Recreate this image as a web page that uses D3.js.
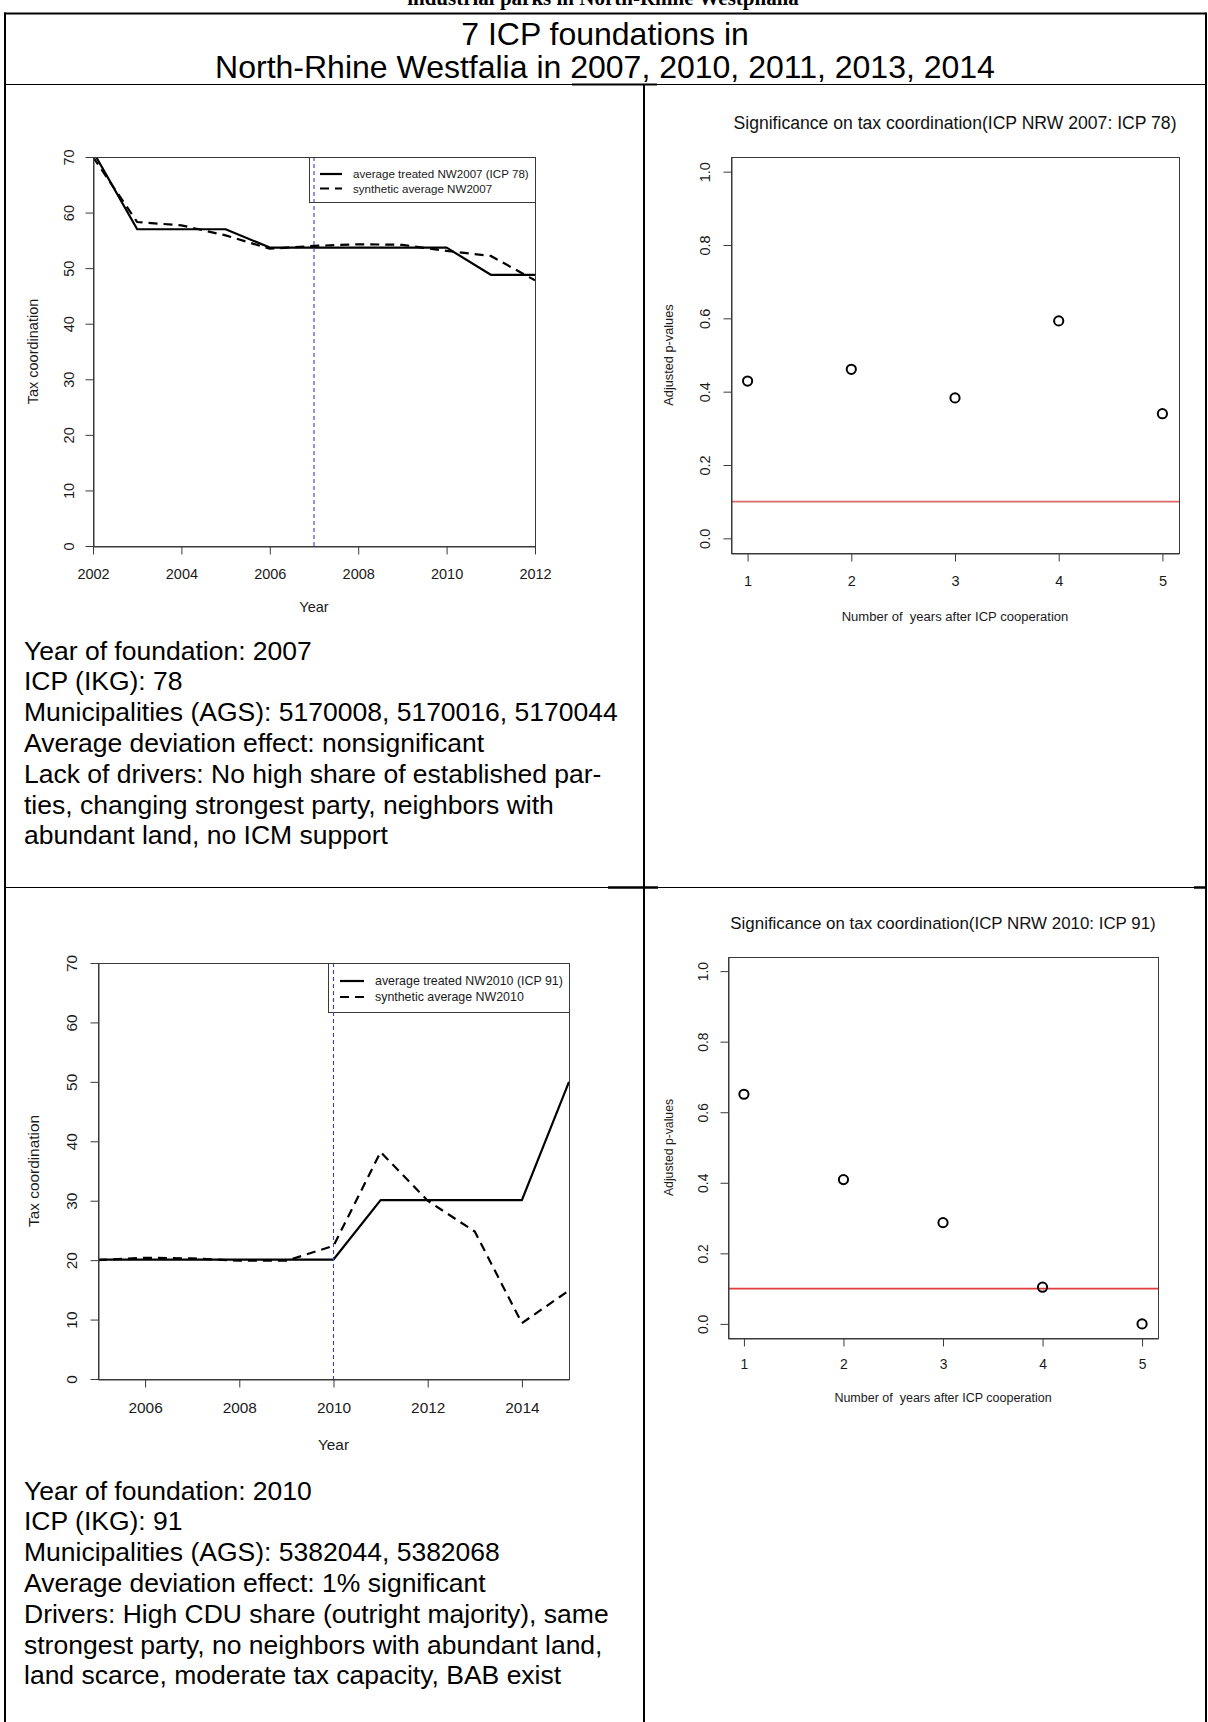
<!DOCTYPE html>
<html>
<head>
<meta charset="utf-8">
<script src="https://cdn.jsdelivr.net/npm/d3@7"></script>
<style>
  html, body { margin: 0; padding: 0; background: #fff; }
  svg { display: block; }
</style>
</head>
<body>
<svg id="page" width="1208" height="1722"></svg>
<script>
// ---- data ----
const docTitle = "industrial parks in North-Rhine Westphalia";
const headerLines = ["7 ICP foundations in", "North-Rhine Westfalia in 2007, 2010, 2011, 2013, 2014"];

const years2007 = [2002, 2003, 2004, 2005, 2006, 2007, 2008, 2009, 2010, 2011, 2012];
const treated2007 = [71.0, 57.0, 57.0, 57.0, 53.7, 53.7, 53.7, 53.7, 53.7, 48.8, 48.8];
const synthetic2007 = [70.0, 58.3, 57.7, 55.9, 53.5, 54.0, 54.3, 54.2, 53.1, 52.2, 47.8];
const xTicks2007 = [2002, 2004, 2006, 2008, 2010, 2012];
const legend2007 = ["average treated NW2007 (ICP 78)", "synthetic average NW2007"];

const years2010 = [2005, 2006, 2007, 2008, 2009, 2010, 2011, 2012, 2013, 2014, 2015];
const treated2010 = [20.1, 20.1, 20.1, 20.1, 20.1, 20.1, 30.1, 30.1, 30.1, 30.1, 50.0];
const synthetic2010 = [20.0, 20.4, 20.3, 19.9, 19.9, 22.4, 38.2, 30.0, 24.8, 9.4, 14.9];
const xTicks2010 = [2006, 2008, 2010, 2012, 2014];
const legend2010 = ["average treated NW2010 (ICP 91)", "synthetic average NW2010"];

const taxTicks = [0, 10, 20, 30, 40, 50, 60, 70];

const yearsAfter = [1, 2, 3, 4, 5];
const pvalues2007 = [0.429, 0.461, 0.383, 0.593, 0.340];
const pvalues2010 = [0.651, 0.409, 0.287, 0.104, 0.0];
const pTicks = [0, 0.2, 0.4, 0.6, 0.8, 1.0];
const pThreshold = 0.1;
const pTitle2007 = "Significance on tax coordination(ICP NRW 2007: ICP 78)";
const pTitle2010 = "Significance on tax coordination(ICP NRW 2010: ICP 91)";

const notes2007 = [
  "Year of foundation: 2007",
  "ICP (IKG): 78",
  "Municipalities (AGS): 5170008, 5170016, 5170044",
  "Average deviation effect: nonsignificant",
  "Lack of drivers: No high share of established par-",
  "ties, changing strongest party, neighbors with",
  "abundant land, no ICM support"
];
const notes2010 = [
  "Year of foundation: 2010",
  "ICP (IKG): 91",
  "Municipalities (AGS): 5382044, 5382068",
  "Average deviation effect: 1% significant",
  "Drivers: High CDU share (outright majority), same",
  "strongest party, no neighbors with abundant land,",
  "land scarce, moderate tax capacity, BAB exist"
];

// ---- drawing ----
const SANS = "Arial, 'Liberation Sans', Helvetica, sans-serif";
const SERIF = "'Times New Roman', 'Liberation Serif', serif";
const AXIS = "#3a3a3a";
const svg = d3.select("#page");

// document title (runs off the top edge of the page)
svg.append("text")
  .attr("x", 603).attr("y", 5)
  .attr("text-anchor", "middle")
  .attr("font-family", SERIF).attr("font-weight", "bold").attr("font-size", 21)
  .text(docTitle);

// table grid
const grid = svg.append("g").attr("stroke", "#000").attr("fill", "none");
grid.append("line").attr("x1", 4).attr("x2", 1206).attr("y1", 13.5).attr("y2", 13.5).attr("stroke-width", 2);
grid.append("line").attr("x1", 5).attr("x2", 5).attr("y1", 12.5).attr("y2", 1722).attr("stroke-width", 2);
grid.append("line").attr("x1", 1206).attr("x2", 1206).attr("y1", 12.5).attr("y2", 1722).attr("stroke-width", 2);
grid.append("line").attr("x1", 4).attr("x2", 1206).attr("y1", 84.5).attr("y2", 84.5).attr("stroke-width", 1.2);
grid.append("line").attr("x1", 572).attr("x2", 657).attr("y1", 84.5).attr("y2", 84.5).attr("stroke-width", 2);
grid.append("line").attr("x1", 644).attr("x2", 644).attr("y1", 84).attr("y2", 1722).attr("stroke-width", 2);
grid.append("line").attr("x1", 4).attr("x2", 1206).attr("y1", 887.5).attr("y2", 887.5).attr("stroke-width", 1.2);
grid.append("line").attr("x1", 608).attr("x2", 658).attr("y1", 887.5).attr("y2", 887.5).attr("stroke-width", 2.5);
grid.append("line").attr("x1", 1194).attr("x2", 1206).attr("y1", 887.5).attr("y2", 887.5).attr("stroke-width", 2.5);

// header
svg.append("g").selectAll("text").data(headerLines).join("text")
  .attr("x", 605).attr("y", (d, i) => 44.5 + i * 33.5)
  .attr("text-anchor", "middle")
  .attr("font-family", SANS).attr("font-size", 32)
  .text(d => d);

function rotatedLeftLabels(axisG, offset) {
  axisG.selectAll(".tick text")
    .attr("x", 0).attr("y", 0).attr("dy", "0.36em")
    .attr("text-anchor", "middle")
    .attr("transform", `translate(${-offset},0) rotate(-90)`);
}

function styleAxis(axisG, fs) {
  axisG.select(".domain").attr("stroke", AXIS);
  axisG.selectAll(".tick line").attr("stroke", AXIS);
  axisG.selectAll(".tick text").attr("fill", "#1a1a1a")
    .attr("font-family", SANS).attr("font-size", fs);
}

function linePanel(o) {
  const g = svg.append("g");
  const x = d3.scaleLinear().domain(o.xDomain).range([o.left, o.right]);
  const y = d3.scaleLinear().domain([0, 70]).range([o.bottom, o.top]);

  const clipId = "clip" + o.id;
  g.append("clipPath").attr("id", clipId).append("rect")
    .attr("x", o.left).attr("y", o.top)
    .attr("width", o.right - o.left).attr("height", o.bottom - o.top);

  const line = d3.line().x((d, i) => x(o.years[i])).y(d => y(d));
  g.append("path").datum(o.treated).attr("clip-path", `url(#${clipId})`)
    .attr("d", line).attr("fill", "none").attr("stroke", "#000")
    .attr("stroke-width", 2.2).attr("stroke-linejoin", "round");
  g.append("path").datum(o.synthetic).attr("clip-path", `url(#${clipId})`)
    .attr("d", line).attr("fill", "none").attr("stroke", "#000")
    .attr("stroke-width", 2.2).attr("stroke-dasharray", "9,6");

  // legend
  const lg = g.append("g");
  lg.append("rect").attr("x", o.legend.left + 0.5).attr("y", o.top + 0.5)
    .attr("width", o.right - o.legend.left).attr("height", o.legend.bottom - o.top)
    .attr("fill", "#fff").attr("stroke", AXIS);
  o.legendLabels.forEach((lab, i) => {
    const ly = o.legend.rows[i];
    lg.append("line").attr("x1", o.legend.s0).attr("x2", o.legend.s1)
      .attr("y1", ly).attr("y2", ly).attr("stroke", "#000").attr("stroke-width", 2.2)
      .attr("stroke-dasharray", i === 1 ? "9,6" : null);
    lg.append("text").attr("x", o.legend.tx).attr("y", ly).attr("dy", "0.35em")
      .attr("font-family", SANS).attr("font-size", o.legend.fs).attr("fill", "#1a1a1a")
      .text(lab);
  });

  // foundation year marker
  g.append("line").attr("x1", x(o.foundation)).attr("x2", x(o.foundation))
    .attr("y1", o.top).attr("y2", o.bottom)
    .attr("stroke", "#3b3bd0").attr("stroke-width", 1.1).attr("stroke-dasharray", "4,3");

  // frame and axes
  g.append("rect").attr("x", o.left + 0.5).attr("y", o.top + 0.5)
    .attr("width", o.right - o.left).attr("height", o.bottom - o.top)
    .attr("fill", "none").attr("stroke", AXIS);

  const ya = g.append("g").attr("transform", `translate(${o.left + 0.5},0)`)
    .call(d3.axisLeft(y).tickValues(taxTicks).tickSize(8).tickSizeOuter(0));
  styleAxis(ya, o.fs);
  rotatedLeftLabels(ya, o.left - o.yLabelX);

  const xa = g.append("g").attr("transform", `translate(0,${o.bottom + 0.5})`)
    .call(d3.axisBottom(x).tickValues(o.xTicks).tickSize(8).tickSizeOuter(0).tickFormat(d3.format("d")));
  styleAxis(xa, o.fs);
  xa.selectAll(".tick text").attr("y", o.xLabelY - o.bottom).attr("dy", "0.35em");

  g.append("text").attr("transform", `translate(${o.yTitleX},${(o.top + o.bottom) / 2}) rotate(-90)`)
    .attr("text-anchor", "middle").attr("dy", "0.35em")
    .attr("font-family", SANS).attr("font-size", o.fs).attr("fill", "#1a1a1a")
    .text("Tax coordination");
  g.append("text").attr("x", (o.left + o.right) / 2).attr("y", o.xTitleY).attr("dy", "0.35em")
    .attr("text-anchor", "middle")
    .attr("font-family", SANS).attr("font-size", o.fs).attr("fill", "#1a1a1a")
    .text("Year");
}

function pvaluePanel(o) {
  const g = svg.append("g");
  const x = d3.scaleLinear().domain([0.84, 5.16]).range([o.left, o.right]);
  const y = d3.scaleLinear().domain([-0.04, 1.04]).range([o.bottom, o.top]);

  g.append("text").attr("x", (o.left + o.right) / 2).attr("y", o.titleY).attr("dy", "0.35em")
    .attr("text-anchor", "middle")
    .attr("font-family", SANS).attr("font-size", o.titleFs).attr("fill", "#111")
    .text(o.title);

  g.append("line").attr("x1", o.left).attr("x2", o.right)
    .attr("y1", y(pThreshold)).attr("y2", y(pThreshold))
    .attr("stroke", o.red).attr("stroke-width", 1.6);

  g.append("g").selectAll("circle").data(o.values).join("circle")
    .attr("cx", (d, i) => x(yearsAfter[i])).attr("cy", d => y(d))
    .attr("r", 4.6).attr("fill", "none").attr("stroke", "#000").attr("stroke-width", 2);

  g.append("rect").attr("x", o.left + 0.5).attr("y", o.top + 0.5)
    .attr("width", o.right - o.left).attr("height", o.bottom - o.top)
    .attr("fill", "none").attr("stroke", AXIS);

  const ya = g.append("g").attr("transform", `translate(${o.left + 0.5},0)`)
    .call(d3.axisLeft(y).tickValues(pTicks).tickSize(8).tickSizeOuter(0).tickFormat(d3.format(".1f")));
  styleAxis(ya, o.fs);
  rotatedLeftLabels(ya, o.left - o.yLabelX);

  const xa = g.append("g").attr("transform", `translate(0,${o.bottom + 0.5})`)
    .call(d3.axisBottom(x).tickValues(yearsAfter).tickSize(8).tickSizeOuter(0).tickFormat(d3.format("d")));
  styleAxis(xa, o.fs);
  xa.selectAll(".tick text").attr("y", o.xLabelY - o.bottom).attr("dy", "0.35em");

  g.append("text").attr("transform", `translate(${o.yTitleX},${(o.top + o.bottom) / 2}) rotate(-90)`)
    .attr("text-anchor", "middle").attr("dy", "0.35em")
    .attr("font-family", SANS).attr("font-size", o.fs * 0.88).attr("fill", "#1a1a1a")
    .text("Adjusted p-values");
  g.append("text").attr("x", (o.left + o.right) / 2).attr("y", o.xTitleY).attr("dy", "0.35em")
    .attr("text-anchor", "middle").attr("xml:space", "preserve")
    .attr("font-family", SANS).attr("font-size", o.fs * 0.9).attr("fill", "#1a1a1a")
    .style("white-space", "pre")
    .text("Number of  years after ICP cooperation");
}

function notes(lines, top) {
  svg.append("g").selectAll("text").data(lines).join("text")
    .attr("x", 24).attr("y", (d, i) => top + i * 30.8)
    .attr("font-family", SANS).attr("font-size", 26.5).attr("fill", "#000")
    .text(d => d);
}

linePanel({
  id: "a", left: 93, right: 535, top: 157, bottom: 546,
  xDomain: [2002, 2012], years: years2007, treated: treated2007, synthetic: synthetic2007,
  xTicks: xTicks2007, foundation: 2007, legendLabels: legend2007,
  legend: { left: 309, bottom: 202, s0: 320, s1: 342, tx: 353, rows: [174, 188.5], fs: 11.6 },
  fs: 14.5, yLabelX: 68, yTitleX: 33, xLabelY: 573, xTitleY: 607
});

pvaluePanel({
  left: 731, right: 1179, top: 157, bottom: 553,
  values: pvalues2007, title: pTitle2007, titleY: 123, titleFs: 17.6,
  red: "#dc6a6a", fs: 14.5, yLabelX: 704, yTitleX: 669, xLabelY: 580, xTitleY: 616
});

notes(notes2007, 659.5);

linePanel({
  id: "b", left: 98, right: 569, top: 963, bottom: 1379,
  xDomain: [2005, 2015], years: years2010, treated: treated2010, synthetic: synthetic2010,
  xTicks: xTicks2010, foundation: 2010, legendLabels: legend2010,
  legend: { left: 328, bottom: 1012, s0: 340, s1: 364, tx: 375, rows: [981, 997], fs: 12.4 },
  fs: 15.4, yLabelX: 71, yTitleX: 34, xLabelY: 1407, xTitleY: 1445
});

pvaluePanel({
  left: 728, right: 1158, top: 957, bottom: 1338,
  values: pvalues2010, title: pTitle2010, titleY: 923, titleFs: 16.9,
  red: "#e03a3a", fs: 13.9, yLabelX: 702, yTitleX: 669, xLabelY: 1364, xTitleY: 1398
});

notes(notes2010, 1499.5);
</script>
</body>
</html>
